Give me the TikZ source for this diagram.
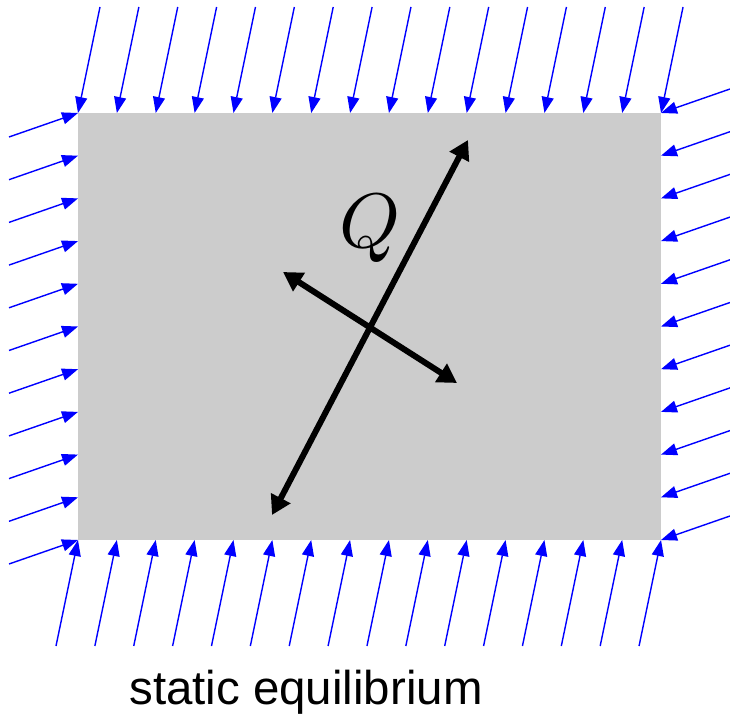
\documentclass[tikz,border=0pt]{standalone}
\usepackage{fontspec}
\newfontfamily\capfont{Liberation Sans}
\usetikzlibrary{arrows.meta}

\begin{document}
\begin{tikzpicture}[>={Triangle[length=0.32cm,width=0.24cm]},x=0.02cm,y=0.02cm,
  load/.style={blue,line width=0.8pt,->},
  paxis/.style={line width=3.4pt,{Triangle[length=0.38cm,width=0.42cm]}-{Triangle[length=0.38cm,width=0.42cm]}}]
\useasboundingbox (0,0) rectangle (730,716);
\fill[black!20] (78,176) rectangle (661,603);
\foreach \i in {0,...,15}{\draw[load] (100+38.87*\i,709)--(78+38.87*\i,603);
  \draw[load] (56+38.87*\i,70)--(78+38.87*\i,176);}
\foreach \j in {0,...,10}{\draw[load] (9,152+42.7*\j)--(78,176+42.7*\j);
  \draw[load] (730,200+42.7*\j)--(661,176+42.7*\j);}
\coordinate (a1) at (468,576);\coordinate (a2) at (272,201);
\coordinate (b1) at (283,444);\coordinate (b2) at (457,333);
\draw[paxis] (a2)--(a1);
\draw[paxis] (b1)--(b2);
\node[anchor=base] (qlabel) at (370,468) {\scalebox{4.4}{$Q$}};
\node[anchor=base,font=\capfont\fontsize{27}{32}\selectfont] (caption) at (306,11) {static equilibrium};
\end{tikzpicture}
\end{document}
